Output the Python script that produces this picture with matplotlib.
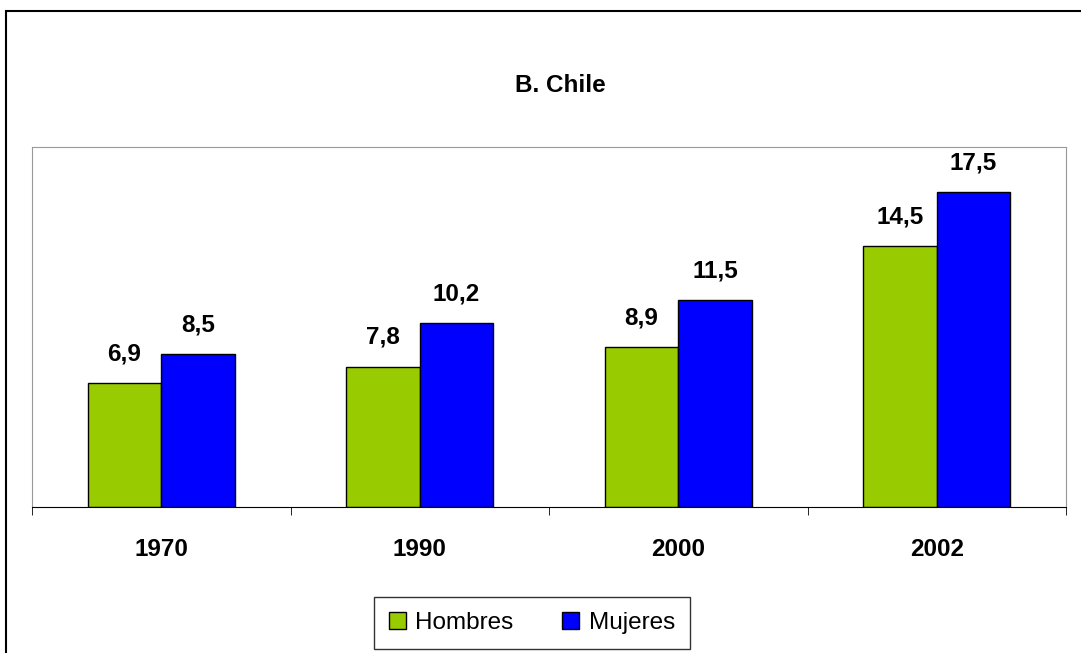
import numpy as np
import matplotlib
matplotlib.use("Agg")
import matplotlib.pyplot as plt
from matplotlib.patches import Rectangle

years = ["1970", "1990", "2000", "2002"]
hombres = [6.9, 7.8, 8.9, 14.5]
mujeres = [8.5, 10.2, 11.5, 17.5]

plt.rcParams['font.family'] = ['Liberation Sans', 'DejaVu Sans']
fs = 17.5

fig = plt.figure(figsize=(10.81, 6.53), dpi=100)
# outer frame (right / bottom edges fall outside the image)
fig.patches.append(Rectangle((6/1081, -0.1), 1.2, 1.1 - 11/653, transform=fig.transFigure,
                             fill=False, edgecolor="black", linewidth=1.5))

ax = fig.add_axes([32/1081, 1 - 507/653, (1066 - 32)/1081, (507 - 147)/653])
x = np.arange(len(years))
w = 0.285
b1 = ax.bar(x - w/2, hombres, w, color="#99CC00", edgecolor="black", linewidth=1, label="Hombres")
b2 = ax.bar(x + w/2, mujeres, w, color="#0000FF", edgecolor="black", linewidth=1, label="Mujeres")

for bars, vals in [(b1, hombres), (b2, mujeres)]:
    for r, v in zip(bars, vals):
        ax.annotate(("%.1f" % v).replace(".", ","), (r.get_x() + r.get_width()/2, v),
                    xytext=(0, 21), textcoords="offset points", ha="center", va="center",
                    fontsize=fs, fontweight="bold")

ax.set_xlim(-0.5, 3.5)
ax.set_ylim(0, 20)
ax.set_yticks([])
ax.set_xticks(x)
ax.set_xticklabels(years, fontsize=fs, fontweight="bold")
ax.tick_params(axis="x", which="major", length=0, pad=22)
ax.set_xticks(np.arange(-0.5, 4, 1), minor=True)
ax.tick_params(axis="x", which="minor", length=6, direction="out", color="black")
for s in ["left", "top", "right"]:
    ax.spines[s].set_color("#999999")
ax.spines["bottom"].set_color("black")

fig.text(560/1081, 1 - 85/653, "B. Chile", ha="center", va="center", fontsize=fs, fontweight="bold")

leg = fig.legend(loc="center", bbox_to_anchor=(532/1081, 1 - 623/653), ncol=2, fontsize=fs,
                 frameon=True, fancybox=False, edgecolor="black", handlelength=0.7,
                 handleheight=0.7, handletextpad=0.4, columnspacing=2.0, borderpad=0.6)
leg.get_frame().set_linewidth(1)

fig.savefig("out.png", dpi=100)
